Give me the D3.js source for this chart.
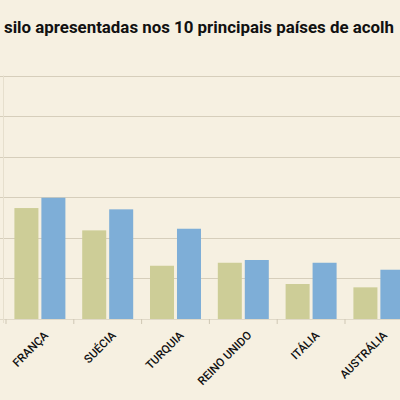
<!DOCTYPE html>
<html lang="pt">
  <head>
    <meta charset="UTF-8" />
    <title>Pedidos de asilo</title>
    <script src="https://cdn.jsdelivr.net/npm/d3@7"></script>
    <style>
      body { margin: 0; background: #f6f0e1; }
    </style>
  </head>
  <body>
    <svg width="400" height="400"></svg>
    <script>
      // dados (valores estimados)
      const paises = ["FRANÇA", "SUÉCIA", "TURQUIA", "REINO UNIDO", "ITÁLIA", "AUSTRÁLIA"];
      const series = ["a", "b"];
      const valoresA = [13670, 10920, 6560, 6930, 4310, 3900];
      const valoresB = [14940, 13510, 11120, 7270, 6930, 6070];
      const grelha = [0, 5000, 10000, 15000, 20000, 25000, 30000];
      const cores = ["#cdcd97", "#7eaed7"];

      const svg = d3.select("svg");
      const width = +svg.attr("width");

      svg.append("rect").attr("width", 400).attr("height", 400).attr("fill", "#f6f0e1");

      // título (cortado como no original)
      const titulo = svg.append("text")
        .attr("x", 4)
        .attr("y", 33)
        .attr("font-family", "'Liberation Sans Narrow', Roboto, sans-serif")
        .attr("font-weight", "bold")
        .attr("font-size", 17.5)
        .attr("fill", "#111")
        .text("silo apresentadas nos 10 principais países de acolh");
      // ajusta à largura disponível sem ultrapassar a margem
      const larguraTitulo = titulo.node().getComputedTextLength();
      if (larguraTitulo > 390) {
        titulo.attr("font-size", 17.5 * 390 / larguraTitulo);
      }

      const y = d3.scaleLinear().domain([0, 30000]).range([319, 75.5]);

      const x0 = d3.scaleBand()
        .domain(paises)
        .range([6, 6 + 67.8 * paises.length])
        .paddingInner(0.248)
        .paddingOuter(0.124);

      const x1 = d3.scaleBand()
        .domain(series)
        .range([0, x0.bandwidth()])
        .paddingInner(0.11);

      // linhas de grelha
      svg.append("g")
        .selectAll("line")
        .data(grelha)
        .join("line")
        .attr("x1", 0)
        .attr("x2", width)
        .attr("y1", (d) => Math.round(y(d)) + 0.5)
        .attr("y2", (d) => Math.round(y(d)) + 0.5)
        .attr("stroke", (d) => (d === 0 ? "#e0d9c8" : "#d6cebb"))
        .attr("stroke-width", 1.2);

      // eixo vertical discreto
      svg.append("line")
        .attr("x1", 3.5).attr("x2", 3.5)
        .attr("y1", y(30000)).attr("y2", y(0) + 4)
        .attr("stroke", "#e6dfcd");

      // barras
      const dados = paises.map((p, i) => ({ pais: p, valores: [valoresA[i], valoresB[i]] }));
      const grupos = svg.append("g")
        .selectAll("g")
        .data(dados)
        .join("g")
        .attr("transform", (d) => `translate(${x0(d.pais)},0)`);

      grupos.selectAll("rect")
        .data((d) => d.valores.map((v, j) => ({ serie: series[j], valor: v, j })))
        .join("rect")
        .attr("x", (d) => x1(d.serie))
        .attr("y", (d) => y(d.valor))
        .attr("width", x1.bandwidth())
        .attr("height", (d) => y(0) - y(d.valor))
        .attr("fill", (d) => cores[d.j]);

      // marcas do eixo nas fronteiras das categorias
      const meioPasso = (x0.step() * x0.paddingInner()) / 2;
      svg.append("g")
        .selectAll("line")
        .data(paises)
        .join("line")
        .attr("x1", (d) => x0(d) - meioPasso)
        .attr("x2", (d) => x0(d) - meioPasso)
        .attr("y1", y(0))
        .attr("y2", y(0) + 5)
        .attr("stroke", "#cfc7b4");

      // rótulos das categorias
      const eixo = svg.append("g")
        .attr("transform", `translate(0,${y(0)})`)
        .call(d3.axisBottom(x0).tickSize(0));
      eixo.select(".domain").remove();
      eixo.selectAll("text")
        .attr("x", 0)
        .attr("y", 0)
        .attr("dy", 0)
        .attr("text-anchor", "end")
        .attr("transform", "translate(9,17) rotate(-45)")
        .attr("font-family", "Roboto, sans-serif")
        .attr("font-weight", 500)
        .attr("font-size", 11.5)
        .attr("fill", "#111");
    </script>
  </body>
</html>
